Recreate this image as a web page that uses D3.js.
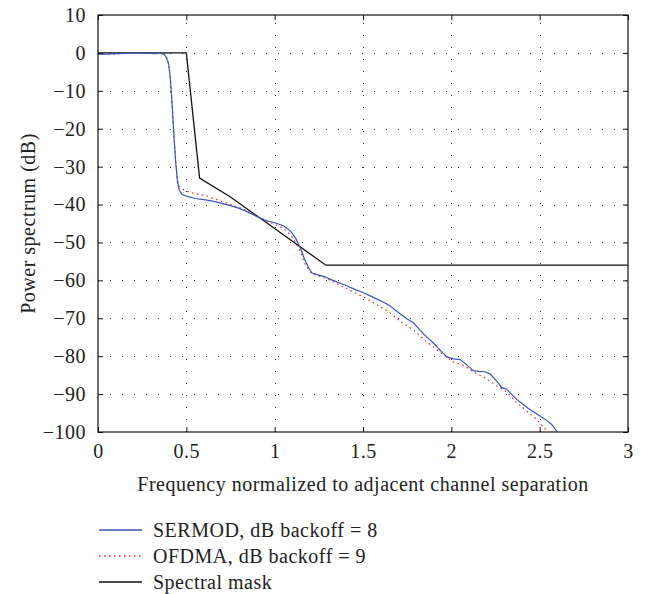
<!DOCTYPE html>
<html>
<head>
<meta charset="utf-8">
<script src="https://cdn.jsdelivr.net/npm/d3@7"></script>
<style>
  html, body { margin: 0; padding: 0; background: #fff; }
  svg { display: block; }
  text { font-family: "Liberation Serif", "Times New Roman", serif; fill: #222; letter-spacing: 0.5px; }
</style>
</head>
<body>
<svg id="chart" width="653" height="594"></svg>
<script>
// Power spectrum samples: [normalized frequency, dB]
const sermod = [
  [0, -0.3], [0.05, -0.3], [0.10, -0.2], [0.15, -0.1], [0.20, 0], [0.25, -0.1],
  [0.30, -0.1], [0.33, -0.2], [0.345, 0.1], [0.36, -0.2], [0.375, -0.3],
  [0.39, -1.5], [0.40, -3], [0.41, -7], [0.42, -14], [0.43, -22], [0.44, -29],
  [0.45, -34], [0.46, -36.2], [0.475, -37.3], [0.50, -37.8], [0.55, -38.4],
  [0.60, -38.7], [0.65, -39.1], [0.70, -39.7], [0.75, -40.3], [0.80, -41],
  [0.85, -42], [0.90, -43.2], [0.95, -44.2], [1.00, -44.8], [1.05, -45.6],
  [1.09, -47], [1.12, -49], [1.15, -52], [1.17, -54.5], [1.19, -56.5],
  [1.21, -58], [1.24, -58.5], [1.28, -59], [1.33, -60], [1.40, -61.3],
  [1.46, -62.5], [1.50, -63.2], [1.55, -64.3], [1.60, -65.4], [1.65, -66.6],
  [1.70, -68.5], [1.75, -70.2], [1.785, -71.2], [1.82, -73], [1.86, -74.9],
  [1.90, -76.6], [1.936, -78.4], [1.975, -80.2], [2.01, -80.7], [2.05, -80.9],
  [2.087, -82.3], [2.124, -83.8], [2.155, -84], [2.19, -84.1], [2.22, -84.7],
  [2.256, -86.5], [2.285, -88.3], [2.313, -88.7], [2.34, -90], [2.37, -91.4],
  [2.40, -92.5], [2.436, -93.8], [2.47, -94.8], [2.50, -95.7], [2.535, -96.8],
  [2.568, -98], [2.60, -100]
];

const ofdma = [
  [0, -0.4], [0.05, -0.3], [0.10, -0.3], [0.15, -0.1], [0.20, 0], [0.25, -0.1],
  [0.30, -0.1], [0.33, -0.2], [0.345, 0], [0.36, -0.2], [0.375, -0.3],
  [0.39, -1.5], [0.40, -3], [0.41, -7], [0.42, -14], [0.43, -22], [0.44, -29],
  [0.45, -33.5], [0.46, -35.3], [0.48, -36], [0.52, -36.8], [0.56, -37.2],
  [0.62, -37.8], [0.70, -39.2], [0.75, -40], [0.80, -40.8], [0.85, -41.8],
  [0.90, -43], [0.95, -44.2], [1.00, -45.2], [1.05, -46.3], [1.09, -48],
  [1.12, -50], [1.15, -53], [1.17, -55.5], [1.19, -57], [1.21, -58.2],
  [1.24, -58.7], [1.30, -59.7], [1.38, -61.5], [1.45, -63.2], [1.52, -64.8],
  [1.60, -67], [1.66, -68.8], [1.71, -70.8], [1.785, -73], [1.86, -76.2],
  [1.945, -79.3], [2.01, -81.5], [2.07, -82.4], [2.124, -84.2], [2.18, -85.4],
  [2.256, -87.8], [2.313, -89.4], [2.37, -92.3], [2.426, -94.4], [2.483, -96.7],
  [2.53, -99.2], [2.545, -100]
];

const mask = [
  [0, 0], [0.5, 0], [0.575, -33], [0.75, -38], [1.29, -56], [3, -56]
];

const xTicks = [0, 0.5, 1, 1.5, 2, 2.5, 3];
const yTicks = [10, 0, -10, -20, -30, -40, -50, -60, -70, -80, -90, -100];

const seriesNames = ["SERMOD, dB backoff = 8", "OFDMA, dB backoff = 9", "Spectral mask"];
const xTitle = "Frequency normalized to adjacent channel separation";
const yTitle = "Power spectrum (dB)";

// Layout
const L = 98, R = 628, T = 15, B = 432;
const FS = 20;
const svg = d3.select("#chart");

const x = d3.scaleLinear().domain([0, 3]).range([L, R]);
const y = d3.scaleLinear().domain([-100, 10]).range([B, T]);

const fmt = v => (v < 0 ? "\u2212" + Math.abs(v) : String(v));

// Dotted grid
const grid = svg.append("g").attr("stroke", "#333").attr("stroke-width", 1)
  .attr("stroke-dasharray", "1,11").attr("fill", "none");
xTicks.slice(1, -1).forEach(v => {
  grid.append("line").attr("x1", Math.round(x(v)) + 0.5).attr("x2", Math.round(x(v)) + 0.5)
    .attr("y1", B).attr("y2", T);
});
yTicks.slice(1, -1).forEach(v => {
  grid.append("line").attr("y1", Math.round(y(v)) + 0.5).attr("y2", Math.round(y(v)) + 0.5)
    .attr("x1", L).attr("x2", R);
});

// Curves
const line = d3.line().x(d => x(d[0])).y(d => y(d[1]));
const plot = svg.append("g");
plot.append("path").datum(mask).attr("d", line)
  .attr("fill", "none").attr("stroke", "#111").attr("stroke-width", 1.3);
plot.append("path").datum(ofdma).attr("d", line)
  .attr("fill", "none").attr("stroke", "#ff2020").attr("stroke-width", 1.2)
  .attr("stroke-dasharray", "1.5,3.5");
plot.append("path").datum(sermod).attr("d", line)
  .attr("fill", "none").attr("stroke", "#3557b8").attr("stroke-width", 1.2);

// Axes: inward ticks on all four sides
const tickLen = 5;
const axB = d3.axisBottom(x).tickValues(xTicks).tickSizeInner(-tickLen).tickSizeOuter(0).tickFormat(fmt).tickPadding(12);
const axT = d3.axisTop(x).tickValues(xTicks).tickSizeInner(-tickLen).tickSizeOuter(0).tickFormat("");
const axL = d3.axisLeft(y).tickValues(yTicks).tickSizeInner(-tickLen).tickSizeOuter(0).tickFormat(fmt).tickPadding(12);
const axR = d3.axisRight(y).tickValues(yTicks).tickSizeInner(-tickLen).tickSizeOuter(0).tickFormat("");

function styleAxis(g) {
  g.select(".domain").remove();
  g.selectAll("line").attr("stroke", "#111").attr("stroke-width", 1);
  g.selectAll("text").attr("font-family", "Liberation Serif, serif")
    .attr("font-size", FS).attr("fill", "#222");
}
svg.append("g").attr("transform", `translate(0,${B})`).call(axB).call(styleAxis);
svg.append("g").attr("transform", `translate(0,${T})`).call(axT).call(styleAxis);
svg.append("g").attr("transform", `translate(${L},0)`).call(axL).call(styleAxis);
svg.append("g").attr("transform", `translate(${R},0)`).call(axR).call(styleAxis);

// Frame
svg.append("rect").attr("x", L).attr("y", T).attr("width", R - L).attr("height", B - T)
  .attr("fill", "none").attr("stroke", "#111").attr("stroke-width", 1.2);

// Axis titles
svg.append("text").attr("x", (L + R) / 2).attr("y", 491).attr("text-anchor", "middle")
  .attr("font-size", FS).text(xTitle);
svg.append("text").attr("transform", `translate(35,${(T + B) / 2}) rotate(-90)`)
  .attr("text-anchor", "middle").attr("font-size", FS).text(yTitle);

// Legend
const legendRows = [
  { name: seriesNames[0], color: "#3557b8", dash: null },
  { name: seriesNames[1], color: "#ff2020", dash: "1.5,3.5" },
  { name: seriesNames[2], color: "#111", dash: null }
];
const lg = svg.append("g");
legendRows.forEach((d, i) => {
  const ly = 530 + i * 26;
  lg.append("line").attr("x1", 99).attr("x2", 142).attr("y1", ly).attr("y2", ly)
    .attr("stroke", d.color).attr("stroke-width", 1.3)
    .attr("stroke-dasharray", d.dash);
  lg.append("text").attr("x", 153).attr("y", ly).attr("dy", "0.35em")
    .attr("font-size", FS).text(d.name);
});
</script>
</body>
</html>
